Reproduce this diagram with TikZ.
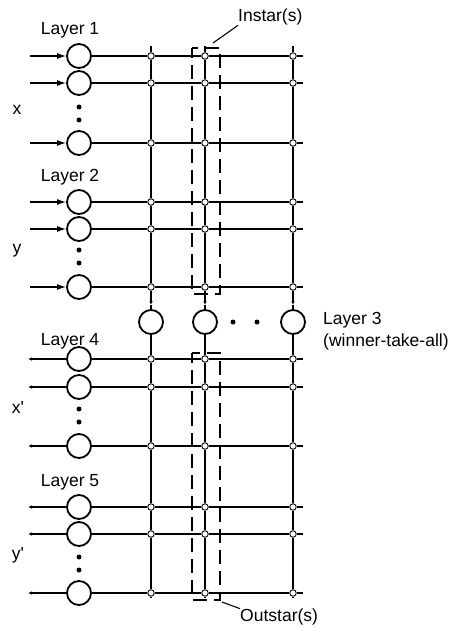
\documentclass[tikz,border=0pt]{standalone}
\usepackage{fontspec}
\setmainfont{Liberation Sans}
\newfontfamily\plainsans{Liberation Sans}
\usetikzlibrary{arrows.meta}
\begin{document}
\begin{tikzpicture}[x=1pt,y=-1pt,
  neuron/.style={circle,draw,line width=1.8pt,minimum size=24pt,inner sep=0pt},
  junc/.style={circle,draw,fill=white,line width=0.9pt,minimum size=6.5pt,inner sep=0pt},
  wire/.style={line width=1.3pt},
  mainwire/.style={line width=2pt},
  thinwire/.style={line width=1.1pt},
  dot/.style={circle,fill=black,minimum size=5pt,inner sep=0pt},
  lbl/.style={font=\plainsans\fontsize{17.5}{21}\selectfont,inner sep=0pt},
  dashbox/.style={line width=1.1pt,dash pattern=on 14pt off 7pt,dash phase=4pt},
  inarrow/.style={wire,-{Latex[length=9pt,width=6pt]}},
  outarrow/.style={wire,-{Latex[length=4pt,width=3.5pt]}},
  downarrow/.style={thinwire,-{Latex[length=4pt,width=3.5pt]}}
]
\fill[white] (0,0) rectangle (459,628);
\useasboundingbox (0,0) rectangle (459,628);

% Input layers 1 and 2
\foreach \n/\y in {L1a/56,L1b/83,L1c/143,L2a/202,L2b/229,L2c/287} {
  \coordinate (\n-in) at (30,\y);
  \coordinate (\n-end) at (303,\y);
  \node[neuron] (\n) at (79,\y) {};
  \node[junc] (\n-1) at (151,\y) {};
  \node[junc] (\n-2) at (205,\y) {};
  \node[junc] (\n-3) at (293,\y) {};
  \draw[inarrow] (\n-in) -- (\n);
  \draw[wire] (\n) -- (\n-1) -- (\n-2) -- (\n-3) -- (\n-end);
}
% Output layers 4 and 5
\foreach \n/\y in {L4a/359,L4b/387,L4c/446,L5a/507,L5b/534,L5c/593} {
  \coordinate (\n-out) at (28,\y);
  \coordinate (\n-end) at (303,\y);
  \node[neuron] (\n) at (79,\y) {};
  \node[junc] (\n-1) at (151,\y) {};
  \node[junc] (\n-2) at (205,\y) {};
  \node[junc] (\n-3) at (293,\y) {};
  \draw[outarrow] (\n) -- (\n-out);
  \draw[wire] (\n) -- (\n-1) -- (\n-2) -- (\n-3) -- (\n-end);
}
% Layer 3
\node[neuron] (C-1) at (151,322) {};
\node[neuron] (C-2) at (205,322) {};
\node[neuron] (C-3) at (293,322) {};
\node[dot] (d3a) at (233,322) {};
\node[dot] (d3b) at (257,322) {};

% vertical lines
\foreach \i/\x/\st in {1/151/mainwire,2/205/thinwire,3/293/thinwire} {
  \coordinate (top-\i) at (\x,46);
  \coordinate (ah-\i) at (\x,305);
  \coordinate (bot-\i) at (\x,598);
  \draw[\st] (top-\i) -- (L1a-\i) -- (L1b-\i) -- (L1c-\i) -- (L2a-\i) -- (L2b-\i) -- (L2c-\i);
  \draw[downarrow] (L2c-\i) -- (ah-\i);
  \draw[thinwire] (ah-\i) -- (C-\i);
  \draw[\st] (C-\i) -- (L4a-\i) -- (L4b-\i) -- (L4c-\i) -- (L5a-\i) -- (L5b-\i) -- (L5c-\i) -- (bot-\i);
}

% dots in layers
\foreach \n/\y in {d1/107,d2/250,d4/409,d5/557} {
  \node[dot] (\n a) at (79,\y) {};
  \node[dot] (\n b) at (79,\y+13) {};
}

% labels
\node[lbl] (lay1) at (70,30) {Layer 1};
\node[lbl] (lay2) at (70,177) {Layer 2};
\node[lbl] (lay4) at (70,341) {Layer 4};
\node[lbl] (lay5) at (70,482) {Layer 5};
\node[lbl] (lx) at (17,110) {x};
\node[lbl] (ly) at (17,251) {y};
\node[lbl] (lxp) at (18,407) {x'};
\node[lbl] (lyp) at (18,555) {y'};
\node[lbl,anchor=west,align=left,font=\plainsans\fontsize{17.5}{22}\selectfont] (lay3) at (323,331) {Layer 3\\(winner-take-all)};

% dashed boxes
\draw[dashbox] (192,48) rectangle (220,294);
\draw[dashbox] (192,353) rectangle (220,600);
\coordinate (inst-pt) at (213,43);
\coordinate (outst-pt) at (222,602);
\node[lbl,anchor=west] (instar) at (238,17) {Instar(s)};
\node[lbl,anchor=west] (outstar) at (240,617) {Outstar(s)};
\draw[thinwire] (inst-pt) -- (instar.south west);
\draw[thinwire] (outst-pt) -- (outstar.north west);
\end{tikzpicture}
\end{document}
